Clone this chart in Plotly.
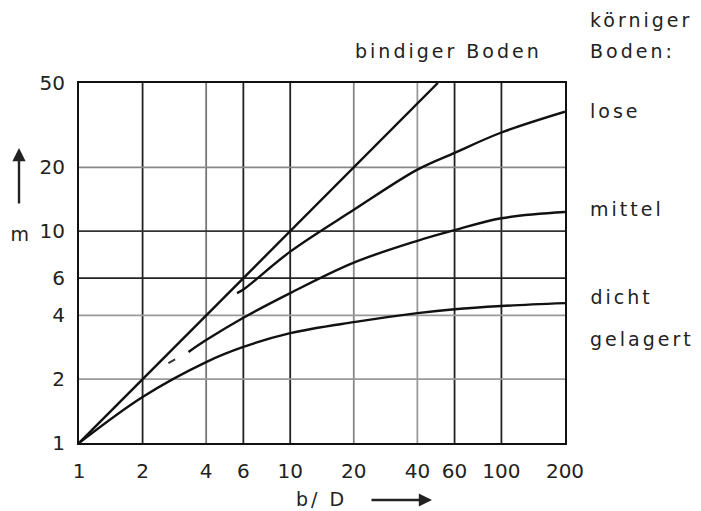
import math
import plotly.graph_objects as go

# ---- data ----
x_grid = [2, 4, 6, 10, 20, 40, 60, 100]
x_grid_col = ["#222", "#777", "#222", "#222", "#888", "#999", "#222", "#222"]
y_grid = [2, 4, 6, 10, 20]
y_grid_col = ["#999", "#999", "#222", "#333", "#888"]

x_ticks = [1, 2, 4, 6, 10, 20, 40, 60, 100, 200]
y_ticks = [1, 2, 4, 6, 10, 20, 50]

bind_x = [1, 50]
bind_y = [1, 50]

lose_x = [5.6, 6, 10, 20, 40, 60, 100, 200]
lose_y = [5.1, 5.3, 8.0, 12.6, 19.5, 23.4, 29.2, 36.6]

mittel_dash_x = [2.65, 2.85]
mittel_dash_y = [2.38, 2.48]
mittel_x = [3.3, 4, 6, 10, 20, 40, 60, 100, 200]
mittel_y = [2.69, 3.06, 3.9, 5.1, 7.1, 9.0, 10.1, 11.5, 12.3]

dicht_x = [1, 2, 4, 6, 10, 20, 40, 60, 100, 200]
dicht_y = [1, 1.65, 2.41, 2.84, 3.3, 3.72, 4.1, 4.28, 4.43, 4.57]

XMIN, XMAX = 1, 200
YMIN, YMAX = 1, 50

FONT = "DejaVu Sans"
TXT = "#222"
LS = 3  # letter spacing (px) of annotation lettering

fig = go.Figure()

# grid lines (drawn as traces so they can differ in tone)
for v, c in zip(x_grid, x_grid_col):
    fig.add_trace(go.Scatter(x=[v, v], y=[YMIN, YMAX], mode="lines",
                             line=dict(color=c, width=1.8), hoverinfo="skip", showlegend=False))
for v, c in zip(y_grid, y_grid_col):
    fig.add_trace(go.Scatter(x=[XMIN, XMAX], y=[v, v], mode="lines",
                             line=dict(color=c, width=1.8), hoverinfo="skip", showlegend=False))

curve = dict(color="#111", width=2.4)
fig.add_trace(go.Scatter(x=bind_x, y=bind_y, mode="lines", line=curve, showlegend=False))
fig.add_trace(go.Scatter(x=lose_x, y=lose_y, mode="lines", line=dict(curve, shape="spline"), showlegend=False))
fig.add_trace(go.Scatter(x=mittel_dash_x, y=mittel_dash_y, mode="lines", line=dict(color="#333", width=2), showlegend=False))
fig.add_trace(go.Scatter(x=mittel_x, y=mittel_y, mode="lines", line=dict(curve, shape="spline"), showlegend=False))
fig.add_trace(go.Scatter(x=dicht_x, y=dicht_y, mode="lines", line=dict(curve, shape="spline"), showlegend=False))

fig.update_xaxes(type="log", range=[math.log10(XMIN), math.log10(XMAX)],
                 tickvals=x_ticks, ticktext=[str(v) for v in x_ticks],
                 showgrid=False, zeroline=False, showline=True, mirror=True,
                 linecolor="#111", linewidth=2, ticks="", ticklabelstandoff=9,
                 tickfont=dict(family=FONT, size=20, color=TXT))
fig.update_yaxes(type="log", range=[math.log10(YMIN), math.log10(YMAX)],
                 tickvals=y_ticks, ticktext=[str(v) for v in y_ticks],
                 showgrid=False, zeroline=False, showline=True, mirror=True,
                 linecolor="#111", linewidth=2, ticks="", ticklabelstandoff=8,
                 tickfont=dict(family=FONT, size=20, color=TXT))

PL, PR, PT, PB = 79, 565, 83, 443
def px(x):
    return (x - PL) / (PR - PL)
def py(y):
    return (PB - y) / (PB - PT)

ann_font = dict(family=FONT, size=19, color=TXT)
anns = [
    dict(text="bindiger Boden", x=448, y=51),
    dict(text="körniger", x=588, y=20, xanchor="left"),
    dict(text="Boden:", x=588, y=51, xanchor="left"),
    dict(text="lose", x=588, y=111, xanchor="left"),
    dict(text="mittel", x=588, y=209, xanchor="left"),
    dict(text="dicht", x=588, y=297, xanchor="left"),
    dict(text="gelagert", x=588, y=339, xanchor="left"),
    dict(text="m", x=21, y=234),
    dict(text="b/ D", x=321, y=499),
]
W, H = 701, 511
for a in anns:
    xa = a["x"]
    if a.get("xanchor") == "left":
        # letter spacing widens the text around its centre; compensate
        xa += LS * len(a["text"]) / 2
    fig.add_annotation(text=a["text"], xref="paper", yref="paper",
                       x=px(xa), y=py(a["y"]),
                       xanchor=a.get("xanchor", "center"), yanchor="middle",
                       showarrow=False, font=ann_font)

# arrows (y-axis "m" and x-axis "b/D")
fig.add_annotation(xref="paper", yref="paper", axref="pixel", ayref="pixel",
                   x=px(19), y=py(148), ax=0, ay=57,
                   text="", showarrow=True, arrowhead=2, arrowsize=1.1, arrowwidth=2.4, arrowcolor="#222")
fig.add_annotation(xref="paper", yref="paper", axref="pixel", ayref="pixel",
                   x=px(432), y=py(500), ax=-62, ay=0,
                   text="", showarrow=True, arrowhead=2, arrowsize=1.1, arrowwidth=2.4, arrowcolor="#222")

fig.update_layout(width=W, height=H, margin=dict(l=PL, r=W - PR, t=PT, b=H - PB),
                  plot_bgcolor="white", paper_bgcolor="white", showlegend=False)

# wider letter spacing for the annotation lettering (stencil-like technical font)
spacing_js = """
var gd = document.getElementById('{plot_id}');
gd.querySelectorAll('.annotation-text').forEach(function(t){ t.style.letterSpacing = '%dpx'; });
""" % LS
fig.write_html("out.html", post_script=spacing_js)
